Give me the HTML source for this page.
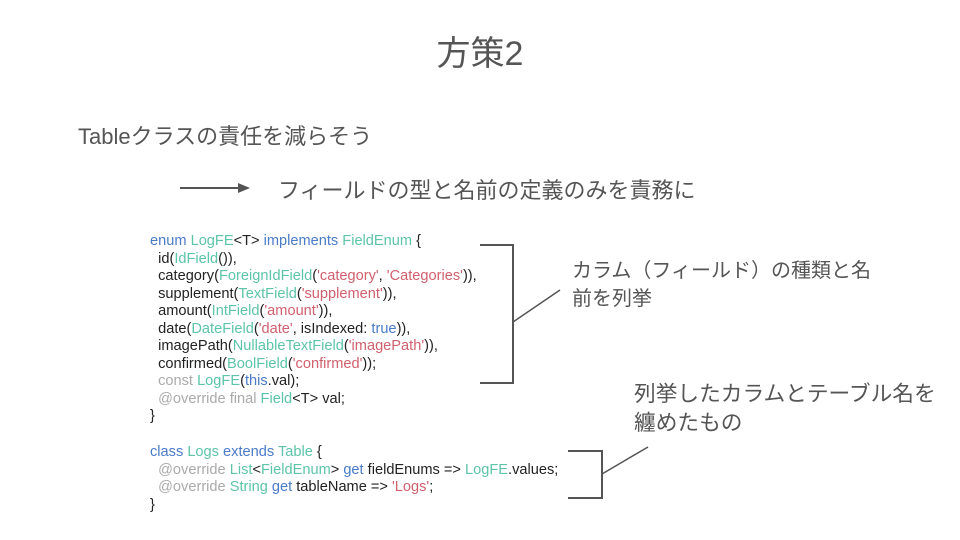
<!DOCTYPE html>
<html><head><meta charset="utf-8"><style>
body{margin:0;width:960px;height:540px;background:#fff;position:relative;overflow:hidden;font-family:"Liberation Sans","Noto Sans CJK JP",sans-serif;color:#444}
.t{position:absolute;white-space:nowrap}
.code{position:absolute;left:150px;font-size:14.6px;line-height:17.5px;color:#222;white-space:pre}
.k{color:#4a7bc8}.c{color:#5cc4a8}.s{color:#d0606e}.g{color:#aaa}
</style></head><body>
<div class="t" style="left:0;width:960px;text-align:center;top:26px;font-size:34px;color:#555">方策2</div>
<div class="t" style="left:78px;top:119px;font-size:22px;color:#555">Tableクラスの責任を減らそう</div>
<div class="t" style="left:278px;top:173px;font-size:22px;color:#555">フィールドの型と名前の定義のみを責務に</div>
<div class="t" style="left:572px;top:257px;font-size:20px;line-height:28px;color:#555">カラム（フィールド）の種類と名<br>前を列挙</div>
<div class="t" style="left:634px;top:379px;font-size:21.7px;line-height:29px;color:#555">列挙したカラムとテーブル名を<br>纏めたもの</div>
<svg style="position:absolute;left:0;top:0" width="960" height="540">
<line x1="180" y1="188" x2="240" y2="188" stroke="#555" stroke-width="2"/>
<polygon points="238,183 250,188 238,193" fill="#555"/>
<polyline points="480,245 513,245 513,383 480,383" fill="none" stroke="#555" stroke-width="2"/>
<line x1="513" y1="322" x2="560" y2="290" stroke="#555" stroke-width="1.5"/>
<polyline points="568,451 602,451 602,498 568,498" fill="none" stroke="#555" stroke-width="2"/>
<line x1="602" y1="474" x2="648" y2="447" stroke="#555" stroke-width="1.5"/>
</svg>
<div class="code" style="top:233px"><span class="k">enum</span> <span class="c">LogFE</span>&lt;T&gt; <span class="k">implements</span> <span class="c">FieldEnum</span> {
  id(<span class="c">IdField</span>()),
  category(<span class="c">ForeignIdField</span>(<span class="s">'category'</span>, <span class="s">'Categories'</span>)),
  supplement(<span class="c">TextField</span>(<span class="s">'supplement'</span>)),
  amount(<span class="c">IntField</span>(<span class="s">'amount'</span>)),
  date(<span class="c">DateField</span>(<span class="s">'date'</span>, isIndexed: <span class="k">true</span>)),
  imagePath(<span class="c">NullableTextField</span>(<span class="s">'imagePath'</span>)),
  confirmed(<span class="c">BoolField</span>(<span class="s">'confirmed'</span>));
  <span class="g">const</span> <span class="c">LogFE</span>(<span class="k">this</span>.val);
  <span class="g">@override final</span> <span class="c">Field</span>&lt;T&gt; val;
}</div>
<div class="code" style="top:444px"><span class="k">class</span> <span class="c">Logs</span> <span class="k">extends</span> <span class="c">Table</span> {
  <span class="g">@override</span> <span class="c">List</span>&lt;<span class="c">FieldEnum</span>&gt; <span class="k">get</span> fieldEnums =&gt; <span class="c">LogFE</span>.values;
  <span class="g">@override</span> <span class="c">String</span> <span class="k">get</span> tableName =&gt; <span class="s">'Logs'</span>;
}</div>
</body></html>
